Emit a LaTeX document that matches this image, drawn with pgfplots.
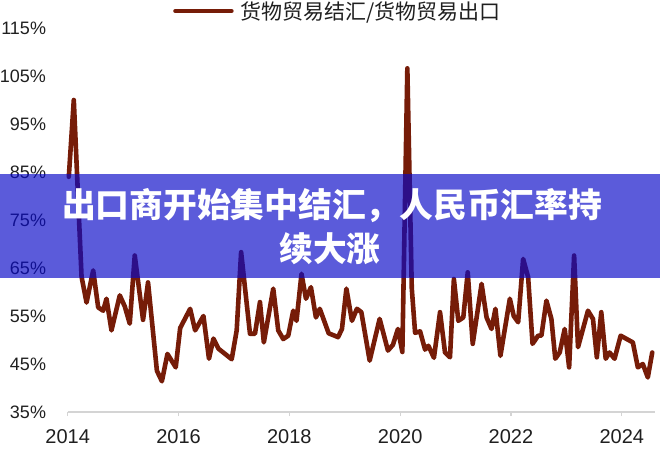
\documentclass[border=0pt]{standalone}
\usepackage{fontspec}
\setmainfont{Liberation Sans}
\newfontfamily\cjk{Noto Sans CJK SC}
\usepackage{pgfplots}
\pgfplotsset{compat=1.18}
\definecolor{series}{RGB}{118,28,8}
\definecolor{banner}{RGB}{10,10,200}
\definecolor{axisgrey}{RGB}{212,212,212}

\begin{document}
\begin{tikzpicture}[x=1pt,y=1pt]
\useasboundingbox (0,0) rectangle (660,453);
\begin{axis}[
    at={(67.7pt,41pt)}, anchor=south west,
    scale only axis, width=587.3pt, height=384pt,
    xmin=2014, xmax=2024.6, ymin=35, ymax=115,
    axis x line*=bottom, axis y line*=left,
    y axis line style={draw=none},
    x axis line style={axisgrey, line width=1.5pt},
    xtick={2014,2016,2018,2020,2022,2024},
    xticklabels={2014,2016,2018,2020,2022,2024},
    ytick={35,45,55,65,75,85,95,105,115},
    yticklabels={35\%,45\%,55\%,65\%,75\%,85\%,95\%,105\%,115\%},
    tick align=outside, major tick length=4pt,
    xtick style={axisgrey, line width=1.2pt},
    ytick style={draw=none},
    xticklabel style={font=\fontsize{20}{24}\selectfont, text=black!88,
        anchor=north, inner sep=0pt, yshift=-13pt},
    yticklabel style={font=\fontsize{18}{22}\selectfont, text=black!88,
        anchor=east, inner sep=0pt, xshift=-17.5pt},
    clip=false,
    legend style={at={(axis description cs:0.1793,1)}, anchor=west, yshift=17pt,
        draw=none, fill=none, inner sep=0pt, column sep=7pt,
        nodes={inner sep=0pt},
        font=\cjk\fontsize{21}{24}\selectfont, text=black!88},
    legend image code/.code={\draw[#1, line cap=round, line width=4.5pt] (2pt,0pt) -- (58pt,0pt);},
]
% goods-trade FX settlement / goods exports, %
\addplot[series, line width=4.6pt, line join=round, line cap=round, mark=none] coordinates {
(2014.02,84.0) (2014.11,100.0) (2014.25,63.2) (2014.34,57.8) (2014.46,64.5)
(2014.55,56.8) (2014.64,56.1) (2014.70,58.6) (2014.79,52.0) (2014.94,59.3)
(2015.03,57.0) (2015.12,53.4) (2015.21,67.6) (2015.36,54.2) (2015.45,62.0)
(2015.61,43.6) (2015.70,41.4) (2015.80,47.1) (2015.95,44.3) (2016.03,52.5)
(2016.21,56.5) (2016.30,52.0) (2016.45,55.0) (2016.55,46.1) (2016.63,50.3)
(2016.72,48.2) (2016.96,46.0) (2017.05,52.0) (2017.13,68.3) (2017.29,51.3)
(2017.38,51.3) (2017.47,57.9) (2017.54,49.5) (2017.71,60.7) (2017.80,52.0)
(2017.89,50.2) (2017.98,50.9) (2018.07,56.1) (2018.13,54.0) (2018.22,63.8)
(2018.30,58.6) (2018.39,61.0) (2018.48,54.7) (2018.55,56.5) (2018.71,51.4)
(2018.88,50.6) (2018.95,52.3) (2019.03,60.7) (2019.13,54.0) (2019.22,56.5)
(2019.30,55.8) (2019.45,45.7) (2019.63,54.4) (2019.78,47.8) (2019.87,49.0)
(2019.96,52.3) (2020.04,47.5) (2020.13,106.6) (2020.21,60.8) (2020.27,51.5)
(2020.36,51.8) (2020.45,48.0) (2020.51,48.8) (2020.61,46.3) (2020.72,55.8)
(2020.81,47.4) (2020.90,46.4) (2020.97,62.7) (2021.05,54.0) (2021.14,54.7)
(2021.22,64.1) (2021.31,49.2) (2021.47,61.7) (2021.56,54.7) (2021.65,52.3)
(2021.72,56.5) (2021.81,46.7) (2021.98,58.6) (2022.05,55.0) (2022.13,53.7)
(2022.22,66.9) (2022.31,63.1) (2022.39,49.2) (2022.49,50.9) (2022.55,50.9)
(2022.64,58.2) (2022.73,54.4) (2022.80,46.1) (2022.88,47.4) (2022.97,52.3)
(2023.05,44.3) (2023.14,67.6) (2023.21,48.5) (2023.30,52.3) (2023.39,56.1)
(2023.48,54.4) (2023.55,46.4) (2023.63,55.8) (2023.71,46.1) (2023.78,47.4)
(2023.87,46.1) (2023.98,50.9) (2024.09,50.2) (2024.20,49.5) (2024.29,44.3)
(2024.38,45.0) (2024.47,42.2) (2024.55,47.4)
};
\addlegendentry{货物贸易结汇/货物贸易出口}
\end{axis}
\fill[banner, fill opacity=0.67] (0,175) rectangle (660,279);
\node[text=white, inner sep=0pt, font=\cjk\bfseries\fontsize{33.75}{40}\selectfont] at (332,247) {出口商开始集中结汇，人民币汇率持};
\node[text=white, inner sep=0pt, font=\cjk\bfseries\fontsize{33.75}{40}\selectfont] at (330,204) {续大涨};
\end{tikzpicture}
\end{document}
